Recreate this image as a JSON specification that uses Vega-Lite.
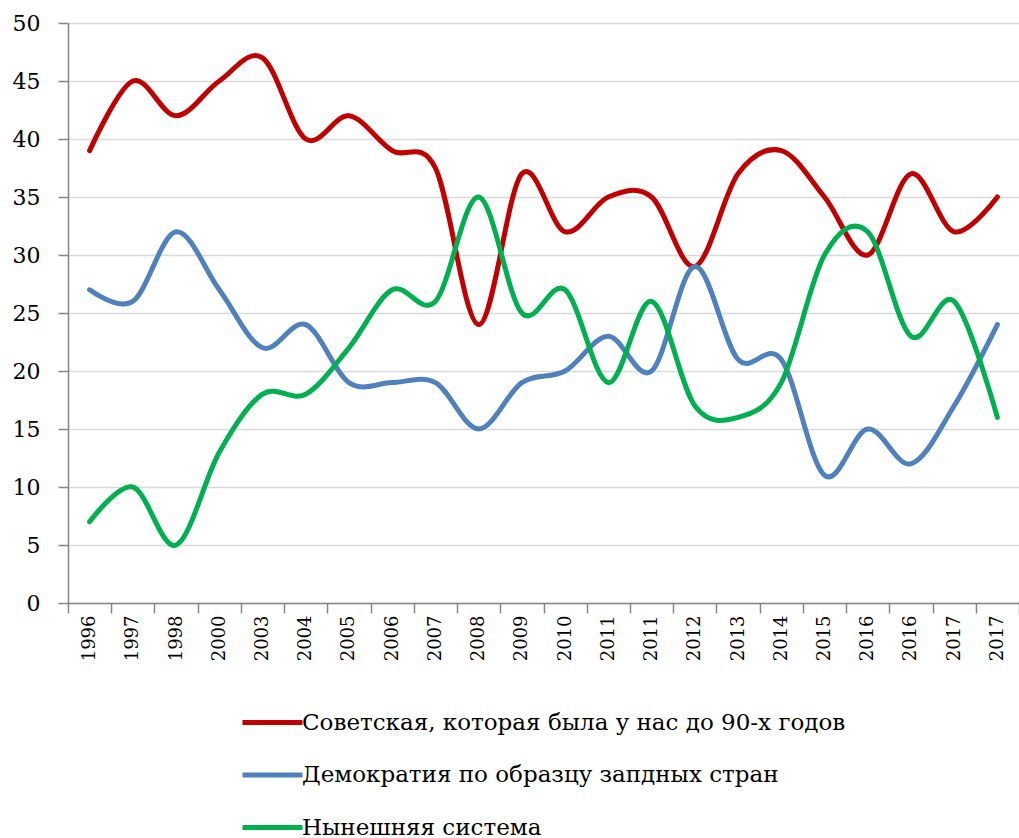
{
  "$schema": "https://vega.github.io/schema/vega-lite/v6.json",
  "width": 951,
  "height": 580,
  "autosize": "none",
  "padding": {"left": 68, "top": 23, "right": 0, "bottom": 235},
  "background": "white",
  "config": {
    "view": {"stroke": null},
    "font": "DejaVu Serif, serif",
    "axis": {"labelFont": "DejaVu Serif, serif"},
    "legend": {"labelFont": "DejaVu Serif, serif"}
  },
  "data": {
    "values": [
      {"i": 0, "s": "Советская, которая была у нас до 90-х годов", "v": 39},
      {"i": 1, "s": "Советская, которая была у нас до 90-х годов", "v": 45},
      {"i": 2, "s": "Советская, которая была у нас до 90-х годов", "v": 42},
      {"i": 3, "s": "Советская, которая была у нас до 90-х годов", "v": 45},
      {"i": 4, "s": "Советская, которая была у нас до 90-х годов", "v": 47},
      {"i": 5, "s": "Советская, которая была у нас до 90-х годов", "v": 40},
      {"i": 6, "s": "Советская, которая была у нас до 90-х годов", "v": 42},
      {"i": 7, "s": "Советская, которая была у нас до 90-х годов", "v": 39},
      {"i": 8, "s": "Советская, которая была у нас до 90-х годов", "v": 37.5},
      {"i": 9, "s": "Советская, которая была у нас до 90-х годов", "v": 24},
      {"i": 10, "s": "Советская, которая была у нас до 90-х годов", "v": 37},
      {"i": 11, "s": "Советская, которая была у нас до 90-х годов", "v": 32},
      {"i": 12, "s": "Советская, которая была у нас до 90-х годов", "v": 35},
      {"i": 13, "s": "Советская, которая была у нас до 90-х годов", "v": 35},
      {"i": 14, "s": "Советская, которая была у нас до 90-х годов", "v": 29},
      {"i": 15, "s": "Советская, которая была у нас до 90-х годов", "v": 37},
      {"i": 16, "s": "Советская, которая была у нас до 90-х годов", "v": 39},
      {"i": 17, "s": "Советская, которая была у нас до 90-х годов", "v": 35},
      {"i": 18, "s": "Советская, которая была у нас до 90-х годов", "v": 30},
      {"i": 19, "s": "Советская, которая была у нас до 90-х годов", "v": 37},
      {"i": 20, "s": "Советская, которая была у нас до 90-х годов", "v": 32},
      {"i": 21, "s": "Советская, которая была у нас до 90-х годов", "v": 35},
      {"i": 0, "s": "Демократия по образцу запдных стран", "v": 27},
      {"i": 1, "s": "Демократия по образцу запдных стран", "v": 26},
      {"i": 2, "s": "Демократия по образцу запдных стран", "v": 32},
      {"i": 3, "s": "Демократия по образцу запдных стран", "v": 27},
      {"i": 4, "s": "Демократия по образцу запдных стран", "v": 22},
      {"i": 5, "s": "Демократия по образцу запдных стран", "v": 24},
      {"i": 6, "s": "Демократия по образцу запдных стран", "v": 19},
      {"i": 7, "s": "Демократия по образцу запдных стран", "v": 19},
      {"i": 8, "s": "Демократия по образцу запдных стран", "v": 19},
      {"i": 9, "s": "Демократия по образцу запдных стран", "v": 15},
      {"i": 10, "s": "Демократия по образцу запдных стран", "v": 19},
      {"i": 11, "s": "Демократия по образцу запдных стран", "v": 20},
      {"i": 12, "s": "Демократия по образцу запдных стран", "v": 23},
      {"i": 13, "s": "Демократия по образцу запдных стран", "v": 20},
      {"i": 14, "s": "Демократия по образцу запдных стран", "v": 29},
      {"i": 15, "s": "Демократия по образцу запдных стран", "v": 21},
      {"i": 16, "s": "Демократия по образцу запдных стран", "v": 21},
      {"i": 17, "s": "Демократия по образцу запдных стран", "v": 11},
      {"i": 18, "s": "Демократия по образцу запдных стран", "v": 15},
      {"i": 19, "s": "Демократия по образцу запдных стран", "v": 12},
      {"i": 20, "s": "Демократия по образцу запдных стран", "v": 17},
      {"i": 21, "s": "Демократия по образцу запдных стран", "v": 24},
      {"i": 0, "s": "Нынешняя система", "v": 7},
      {"i": 1, "s": "Нынешняя система", "v": 10},
      {"i": 2, "s": "Нынешняя система", "v": 5},
      {"i": 3, "s": "Нынешняя система", "v": 13},
      {"i": 4, "s": "Нынешняя система", "v": 18},
      {"i": 5, "s": "Нынешняя система", "v": 18},
      {"i": 6, "s": "Нынешняя система", "v": 22},
      {"i": 7, "s": "Нынешняя система", "v": 27},
      {"i": 8, "s": "Нынешняя система", "v": 26},
      {"i": 9, "s": "Нынешняя система", "v": 35},
      {"i": 10, "s": "Нынешняя система", "v": 25},
      {"i": 11, "s": "Нынешняя система", "v": 27},
      {"i": 12, "s": "Нынешняя система", "v": 19},
      {"i": 13, "s": "Нынешняя система", "v": 26},
      {"i": 14, "s": "Нынешняя система", "v": 17},
      {"i": 15, "s": "Нынешняя система", "v": 16},
      {"i": 16, "s": "Нынешняя система", "v": 19},
      {"i": 17, "s": "Нынешняя система", "v": 30},
      {"i": 18, "s": "Нынешняя система", "v": 32},
      {"i": 19, "s": "Нынешняя система", "v": 23},
      {"i": 20, "s": "Нынешняя система", "v": 26},
      {"i": 21, "s": "Нынешняя система", "v": 16}
    ]
  },
  "mark": {"type": "line", "interpolate": "cardinal", "tension": 0, "strokeWidth": 5, "strokeCap": "round"},
  "encoding": {
    "x": {
      "field": "i",
      "type": "ordinal",
      "bandPosition": 0.5,
      "scale": {"type": "band", "paddingInner": 0, "paddingOuter": 0},
      "axis": {
        "title": null,
        "labelAngle": -90,
        "labelFont": "DejaVu Serif, serif",
        "labelFontSize": 18,
        "labelColor": "black",
        "labelPadding": 2,
        "labelExpr": "['1996','1997','1998','2000','2003','2004','2005','2006','2007','2008','2009','2010','2011','2011','2012','2013','2014','2015','2016','2016','2017','2017'][datum.value]",
        "tickBand": "extent",
        "tickSize": 10,
        "tickColor": "#868686",
        "tickWidth": 1.5,
        "domainColor": "#868686",
        "domainWidth": 1.5,
        "grid": false
      }
    },
    "y": {
      "field": "v",
      "type": "quantitative",
      "scale": {"domain": [0, 50]},
      "axis": {
        "title": null,
        "values": [0, 5, 10, 15, 20, 25, 30, 35, 40, 45, 50],
        "labelFont": "DejaVu Serif, serif",
        "labelFontSize": 22,
        "labelColor": "black",
        "labelPadding": 18,
        "tickSize": 10,
        "tickColor": "#868686",
        "tickWidth": 1.5,
        "domainColor": "#868686",
        "domainWidth": 1.5,
        "gridColor": "#d9d9d9",
        "gridWidth": 1.5
      }
    },
    "color": {
      "field": "s",
      "type": "nominal",
      "scale": {
        "domain": ["Советская, которая была у нас до 90-х годов", "Демократия по образцу запдных стран", "Нынешняя система"],
        "range": ["#c00000", "#4f81bd", "#00b050"]
      },
      "legend": {
        "title": null,
        "orient": "none",
        "legendX": 172,
        "legendY": 667,
        "direction": "vertical",
        "symbolType": "stroke",
        "symbolSize": 3600,
        "symbolStrokeWidth": 5,
        "labelFont": "DejaVu Serif, serif",
        "labelFontSize": 23,
        "labelColor": "black",
        "labelOffset": -3,
        "rowPadding": 7.5,
        "labelLimit": 800
      }
    }
  }
}
